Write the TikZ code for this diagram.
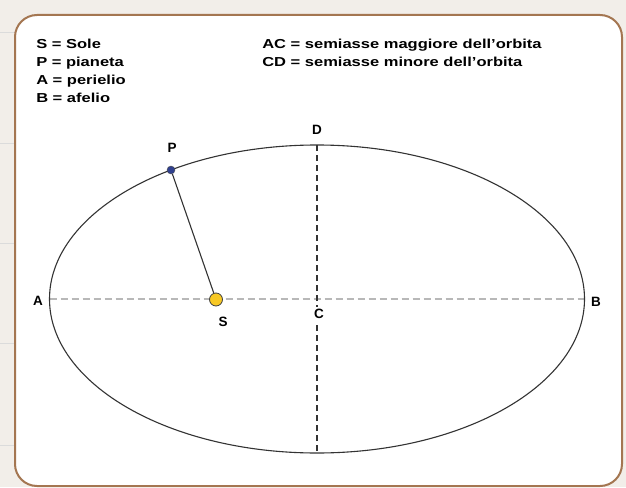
\documentclass[tikz,border=0pt]{standalone}
\usepackage{fontspec}
\setmainfont{Liberation Sans}
\definecolor{paper}{HTML}{F2EEE9}
\definecolor{frame}{HTML}{A47651}
\definecolor{sun}{HTML}{F7C824}
\definecolor{planet}{HTML}{30408F}

\begin{document}
\begin{tikzpicture}[x=1pt,y=-1pt,
  lbl/.style={font=\fontsize{13.5}{13.5}\selectfont\bfseries,inner sep=0.5pt},
  legend/.style={font=\fontsize{13}{18}\selectfont\bfseries,align=left,
    anchor=north west,inner sep=0pt,xscale=1.27,transform shape},
  axis/.style={line width=2pt,black!28,dash pattern=on 7pt off 4pt},
  minor/.style={line width=1.3pt,black!80,dash pattern=on 6pt off 4pt},
  orbit/.style={line width=1.1pt,black!80}]
\useasboundingbox (0,0) rectangle (626,487);
\fill[paper] (0,0) rectangle (626,487);
%ruled paper behind the card
\foreach \y in {33,143,243,343,445}
  \draw[black!14,line width=1pt] (0,\y) -- (15,\y);
\draw[frame,line width=2pt,fill=white,rounded corners=22pt] (15,15) rectangle (622,486);

%legend
\node[legend] (key1) at (36,38.5) {S = Sole\\P = pianeta\\A = perielio\\B = afelio};
\node[legend] (key2) at (262,38.5) {AC = semiasse maggiore dell'orbita\\CD = semiasse minore dell'orbita};

%axes of the orbit
\coordinate (C) at (317,299);
\coordinate (A) at (49.5,299);
\coordinate (B) at (584.5,299);
\coordinate (D) at (317,145);
\coordinate (E) at (317,453);
\draw[axis] (A) -- (B);
\draw[minor] (D) -- (E);
\node[lbl,fill=white,inner sep=2pt] (labC) at (319,314) {C};

%orbit
\draw[orbit] (C) ellipse [x radius=267.5pt, y radius=154pt];

%planet and sun
\node[circle,draw=black!70,fill=planet,inner sep=0pt,minimum size=8pt] (P) at (171,170) {};
\node[circle,draw=black!75,fill=sun,line width=0.8pt,inner sep=0pt,minimum size=13pt] (S) at (216,299.5) {};
\draw[black!80,line width=1.1pt] (P) -- (S);

%labels
\node[lbl] (labA) at (38,301) {A};
\node[lbl] (labB) at (596,302) {B};
\node[lbl] (labD) at (317,130) {D};
\node[lbl] (labP) at (172,148) {P};
\node[lbl] (labS) at (223,322) {S};
\end{tikzpicture}
\end{document}
